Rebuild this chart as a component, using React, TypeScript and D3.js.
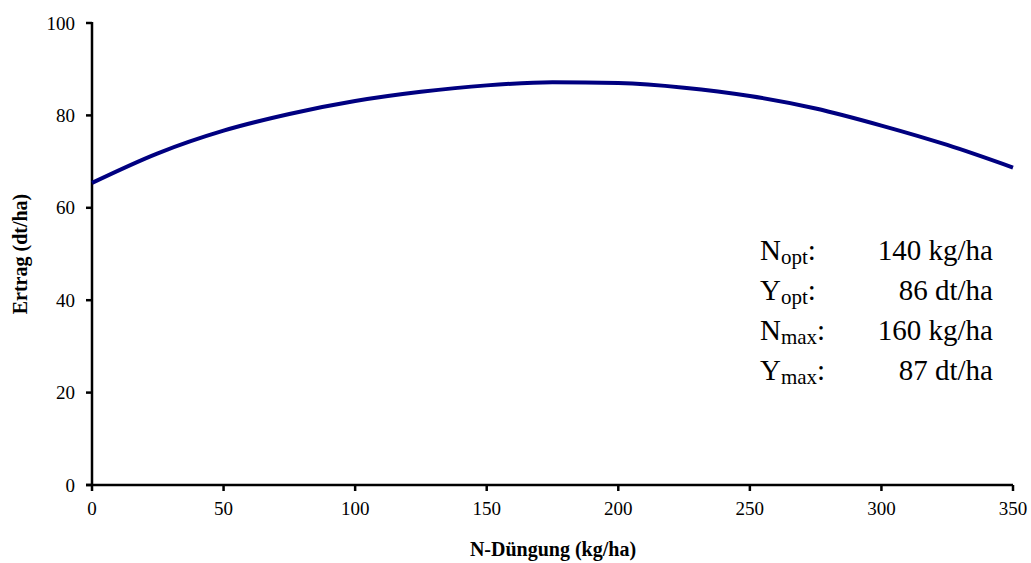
import React from "react";
import * as d3 from "d3";

const nDose = [0, 25, 50, 75, 100, 125, 150, 175, 200, 225, 250, 275, 300, 325, 350];
const yieldValues = [65.4, 71.8, 76.7, 80.3, 83.1, 85.1, 86.5, 87.2, 87.0, 86.0, 84.2, 81.5, 77.8, 73.6, 68.7];
const xTicks = [0, 50, 100, 150, 200, 250, 300, 350];
const yTicks = [0, 20, 40, 60, 80, 100];
const annLabels = [
  { main: "N", sub: "opt", value: "140 kg/ha" },
  { main: "Y", sub: "opt", value: "86 dt/ha" },
  { main: "N", sub: "max", value: "160 kg/ha" },
  { main: "Y", sub: "max", value: "87 dt/ha" },
];

const W = 1031;
const H = 563;
const left = 92;
const right = 1013;
const top = 23;
const bottom = 485;
const fs = { fontFamily: '"Liberation Serif"' };

export default function App() {
  const x = d3.scaleLinear().domain([0, 350]).range([left, right]);
  const y = d3.scaleLinear().domain([0, 100]).range([bottom, top]);
  const pts = nDose.map((d, i) => [d, yieldValues[i]] as [number, number]);
  const line = d3
    .line<[number, number]>()
    .x((d) => x(d[0]))
    .y((d) => y(d[1]))
    .curve(d3.curveMonotoneX);

  return (
    <svg width={W} height={H} style={{ position: "absolute", left: 0, top: 0, background: "#fff" }}>
      <rect x={0} y={0} width={W} height={H} fill="#fff" />
      <line x1={left} x2={left} y1={top - 1} y2={bottom + 1} stroke="#000" strokeWidth={2.5} />
      {yTicks.map((t) => (
        <g key={"y" + t}>
          <line x1={left - 6} x2={left} y1={y(t)} y2={y(t)} stroke="#000" strokeWidth={2.5} />
          <text x={left - 17} y={y(t)} dy="0.35em" textAnchor="end" fontSize={19} style={fs}>
            {t}
          </text>
        </g>
      ))}
      <line x1={left - 6} x2={right} y1={bottom} y2={bottom} stroke="#000" strokeWidth={2.5} />
      {xTicks.map((t) => (
        <g key={"x" + t}>
          <line x1={x(t)} x2={x(t)} y1={bottom} y2={bottom + 6} stroke="#000" strokeWidth={2.5} />
          <text x={x(t)} y={bottom + 30} textAnchor="middle" fontSize={19} style={fs}>
            {t}
          </text>
        </g>
      ))}
      <path d={line(pts) || ""} fill="none" stroke="#000080" strokeWidth={4} />
      <text x={553} y={556} textAnchor="middle" fontSize={20} fontWeight="bold" style={fs}>
        N-Düngung (kg/ha)
      </text>
      <text
        transform={`translate(27,${(top + bottom) / 2}) rotate(-90)`}
        textAnchor="middle"
        fontSize={20}
        fontWeight="bold"
        style={fs}
      >
        Ertrag (dt/ha)
      </text>
      {annLabels.map((a, i) => (
        <g key={"a" + i}>
          <text x={760} y={260 + i * 40} fontSize={29} style={fs}>
            {a.main}
            <tspan fontSize={21} dy={4}>{a.sub}</tspan>
            <tspan dy={-4}>:</tspan>
          </text>
          <text x={993} y={260 + i * 40} fontSize={29} textAnchor="end" style={fs}>
            {a.value}
          </text>
        </g>
      ))}
    </svg>
  );
}
